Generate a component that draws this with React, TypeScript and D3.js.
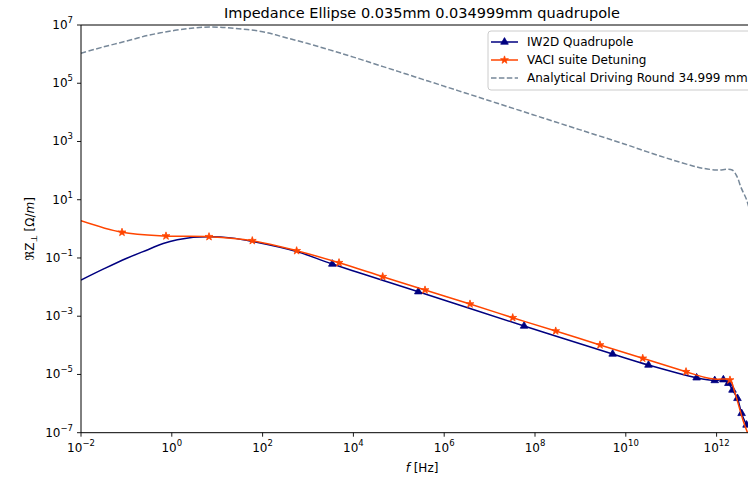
import React from 'react';
import * as d3 from 'd3';

// ---- data ----
const analyticalFreq = [1e-2, 3e-2, 1e-1, 3e-1, 1, 3, 7, 20, 1e2, 3e2, 1e3, 3e3, 1e4, 1e5, 1e6, 1e7, 1e8, 1e9, 1e10, 3e10, 1e11, 3e11, 5e11, 1e12, 2.2e12, 2.8e12, 3.5e12, 4.6e12, 5.6e12];
const analyticalRe = [1.07e6, 1.74e6, 2.8e6, 4.4e6, 6.3e6, 7.9e6, 8.5e6, 7.9e6, 5.9e6, 3.8e6, 2.3e6, 1.4e6, 7.9e5, 2.5e5, 7.9e4, 2.5e4, 7.9e3, 2.5e3, 7.9e2, 4.4e2, 2.4e2, 1.45e2, 1.2e2, 1.05e2, 1.05e2, 63, 25, 9.8, 3.2];

const iw2dFreq = [1e-2, 3.16e-2, 0.102, 0.316, 0.646, 2.95, 6.9, 20, 63, 562, 3.43e3, 2.69e5, 5.75e7, 5.13e9, 3.16e10, 3.63e11, 9.1e11, 1.41e12, 1.82e12, 2.24e12, 2.88e12, 3.55e12, 4.57e12];
const iw2dRe = [1.74e-2, 4.2e-2, 9.8e-2, 0.2, 0.316, 0.51, 0.54, 0.49, 0.363, 0.166, 6.2e-2, 6.95e-3, 4.6e-4, 5.04e-5, 2.11e-5, 7.7e-6, 6.2e-6, 6.6e-6, 4.97e-6, 2.92e-6, 1.51e-6, 4.6e-7, 1.84e-7];
const iw2dMarked = [false, false, false, false, false, false, false, false, false, false, true, true, true, true, true, true, true, true, true, true, true, true, true];

const vaciFreq = [1e-2, 8e-2, 0.745, 6.6, 59.3, 562, 4.82e3, 4.42e4, 3.78e5, 3.7e6, 3.23e7, 2.86e8, 2.7e9, 2.36e10, 2.12e11, 5.6e11, 1e12, 1.97e12, 2.54e12, 3.8e12, 4.8e12];
const vaciRe = [1.9, 0.76, 0.568, 0.537, 0.392, 0.177, 6.87e-2, 2.28e-2, 7.94e-3, 2.62e-3, 8.87e-4, 3.1e-4, 1.03e-4, 3.58e-5, 1.24e-5, 7.9e-6, 6.9e-6, 6.44e-6, 2.29e-6, 2.75e-7, 1e-7];
const vaciMarked = [false, true, true, true, true, true, true, true, true, true, true, true, true, true, true, false, false, true, false, false, false];

const xTickExps = [-2, 0, 2, 4, 6, 8, 10, 12];
const yTickExps = [-7, -5, -3, -1, 1, 3, 5, 7];
const legendLabels = ['IW2D Quadrupole', 'VACI suite Detuning', 'Analytical Driving Round 34.999 mm'];
const titleText = 'Impedance Ellipse 0.035mm 0.034999mm quadrupole';

const W = 748;
const H = 479;
const L = 81;
const R = 763;
const T = 25;
const B = 432.7;

const NAVY = '#000080';
const ORANGE = '#ff4500';
const GRAY = '#778899';
const FONT = 'DejaVu Sans, sans-serif';

const fmtExp = (e: number) => (e < 0 ? '\u2212' + Math.abs(e) : String(e));

export default function App() {
  const x = d3.scaleLog().domain([1e-2, Math.pow(10, -2 + (R - L) / 45.4)]).range([L, R]);
  const y = d3.scaleLog().domain([1e-7, 1e7]).range([B, T]);

  const line = d3
    .line<[number, number]>()
    .x((d) => x(d[0]))
    .y((d) => y(d[1]))
    .curve(d3.curveCatmullRom.alpha(0.5));

  const anaPts = analyticalFreq.map((f, i) => [f, analyticalRe[i]] as [number, number]);
  const iwPts = iw2dFreq.map((f, i) => [f, iw2dRe[i]] as [number, number]);
  const vaPts = vaciFreq.map((f, i) => [f, vaciRe[i]] as [number, number]);

  const tri = d3.symbol().type(d3.symbolTriangle).size(25)() as string;
  const star = d3.symbol().type(d3.symbolStar).size(19)() as string;

  const legX = 488;
  const legY = 31;
  const rowY = [42, 60, 78];

  return (
    <svg
      width={W}
      height={H}
      style={{ position: 'absolute', left: 0, top: 0, background: '#fff' }}
      fontFamily={FONT}
    >
      <defs>
        <clipPath id="plotclip">
          <rect x={L} y={T} width={R - L} height={B - T} />
        </clipPath>
      </defs>
      <rect x={0} y={0} width={W} height={H} fill="#fff" />

      {/* title */}
      <text x={(L + R) / 2} y={18} textAnchor="middle" fontSize={14.5} fill="#000">
        {titleText}
      </text>

      {/* data */}
      <g clipPath="url(#plotclip)">
        <path d={line(iwPts) || ''} fill="none" stroke={NAVY} strokeWidth={1.5} />
        {iwPts.map((p, i) =>
          iw2dMarked[i] ? (
            <path key={'t' + i} d={tri} transform={`translate(${x(p[0])},${y(p[1])})`} fill={NAVY} stroke={NAVY} strokeWidth={0.8} />
          ) : null
        )}
        <path d={line(vaPts) || ''} fill="none" stroke={ORANGE} strokeWidth={1.5} />
        {vaPts.map((p, i) =>
          vaciMarked[i] ? (
            <path key={'s' + i} d={star} transform={`translate(${x(p[0])},${y(p[1])})`} fill={ORANGE} stroke={ORANGE} strokeWidth={0.8} />
          ) : null
        )}
        <path d={line(anaPts) || ''} fill="none" stroke={GRAY} strokeWidth={1.5} strokeDasharray="5.5,2.4" />
      </g>

      {/* spines */}
      <line x1={L} y1={T} x2={L} y2={B} stroke="#000" strokeWidth={1} />
      <line x1={L} y1={B} x2={R} y2={B} stroke="#000" strokeWidth={1} />
      <line x1={L} y1={T} x2={R} y2={T} stroke="#000" strokeWidth={1} />
      <line x1={R} y1={T} x2={R} y2={B} stroke="#000" strokeWidth={1} />

      {/* x ticks */}
      {xTickExps.map((e) => {
        const px = x(Math.pow(10, e));
        return (
          <g key={'x' + e}>
            <line x1={px} y1={B} x2={px} y2={B + 4} stroke="#000" strokeWidth={0.9} />
            <text x={px} y={452} textAnchor="middle" fontSize={12} fill="#000">
              10
              <tspan dy={-6} fontSize={8.5}>{fmtExp(e)}</tspan>
            </text>
          </g>
        );
      })}

      {/* y ticks */}
      {yTickExps.map((e) => {
        const py = y(Math.pow(10, e));
        return (
          <g key={'y' + e}>
            <line x1={L - 4} y1={py} x2={L} y2={py} stroke="#000" strokeWidth={0.9} />
            <text x={73} y={py + 4} textAnchor="end" fontSize={12} fill="#000">
              10
              <tspan dy={-6} fontSize={8.5}>{fmtExp(e)}</tspan>
            </text>
          </g>
        );
      })}

      {/* axis labels */}
      <text x={(L + R) / 2} y={472} textAnchor="middle" fontSize={12} fill="#000">
        <tspan fontStyle="italic">f</tspan> [Hz]
      </text>
      <text transform={`translate(34,${(T + B) / 2}) rotate(-90)`} textAnchor="middle" fontSize={12} fill="#000">
        {'\u211cZ'}
        <tspan dy={3} fontSize={8.5}>{'\u22a5'}</tspan>
        <tspan dy={-3}> [{'\u03a9'}/</tspan>
        <tspan fontStyle="italic">m</tspan>
        <tspan>]</tspan>
      </text>

      {/* legend */}
      <rect x={legX} y={legY} width={280} height={59} rx={3} fill="#fff" fillOpacity={0.8} stroke="#cccccc" strokeWidth={1} />
      {legendLabels.map((lab, i) => {
        const cy = rowY[i];
        const color = i === 0 ? NAVY : i === 1 ? ORANGE : GRAY;
        return (
          <g key={'l' + i}>
            <line x1={491} y1={cy} x2={518} y2={cy} stroke={color} strokeWidth={1.5} strokeDasharray={i === 2 ? '5.5,2.4' : undefined} />
            {i === 0 && <path d={tri} transform={`translate(504.5,${cy})`} fill={NAVY} stroke={NAVY} strokeWidth={0.8} />}
            {i === 1 && <path d={star} transform={`translate(504.5,${cy})`} fill={ORANGE} stroke={ORANGE} strokeWidth={0.8} />}
            <text x={527} y={cy + 4.3} fontSize={12} fill="#000">
              {lab}
            </text>
          </g>
        );
      })}
    </svg>
  );
}
